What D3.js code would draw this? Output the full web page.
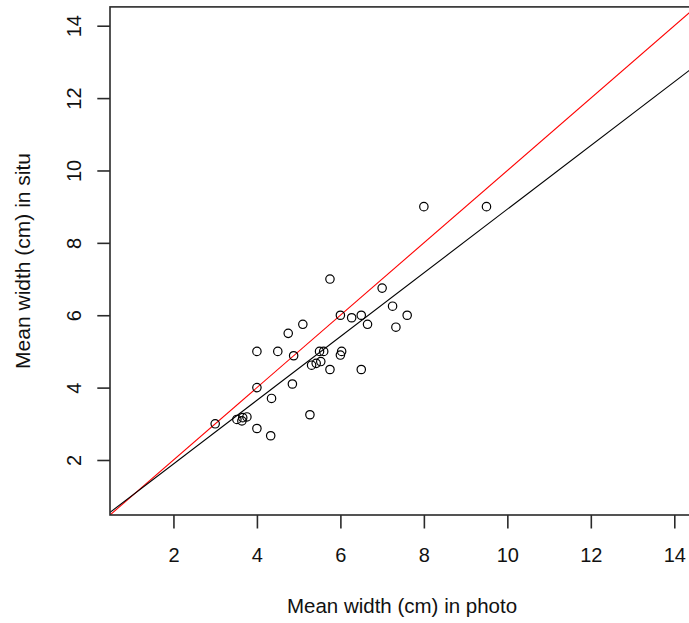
<!DOCTYPE html>
<html>
<head>
<meta charset="utf-8">
<script src="https://cdn.jsdelivr.net/npm/d3@7"></script>
<style>
  html, body { margin: 0; padding: 0; background: #fff; }
  svg { display: block; font-family: "Liberation Sans", Arial, sans-serif; }
</style>
</head>
<body>
<svg id="chart" width="689" height="623"></svg>
<script>
// Mean width measured in photos vs. measured in situ (cm)
const photoWidth = [3.0, 3.52, 3.64, 3.66, 3.76, 4.0, 4.33, 4.0, 4.35, 4.85, 5.27,
  4.0, 4.5, 4.88, 4.75, 5.1, 5.75, 7.0, 7.25, 7.6, 7.33, 6.0, 6.27, 6.5, 6.65,
  5.5, 5.6, 6.03, 6.0, 5.31, 5.42, 5.53, 5.75, 6.5, 8.0, 9.5];
const situWidth = [3.0, 3.12, 3.08, 3.17, 3.19, 2.87, 2.67, 4.0, 3.7, 4.1, 3.25,
  5.0, 5.0, 4.88, 5.5, 5.75, 7.0, 6.75, 6.25, 6.0, 5.67, 6.0, 5.93, 6.0, 5.75,
  5.0, 5.0, 5.0, 4.9, 4.62, 4.67, 4.72, 4.5, 4.5, 9.0, 9.0];

const xTicks = [2, 4, 6, 8, 10, 12, 14];
const yTicks = [2, 4, 6, 8, 10, 12, 14];

// Fitted regression line (black) and 1:1 reference line (red)
const fitLine = { intercept: 0.13, slope: 0.88 };
const identityLine = { intercept: 0, slope: 1 };

const xDomain = [0.48, 14.52];
const yDomain = [0.48, 14.52];

const svg = d3.select("#chart");
const W = 689, H = 623;
const plotLeft = 110, plotRight = 696, plotTop = 6.9, plotBottom = 515;

const x = d3.scaleLinear().domain(xDomain).range([plotLeft, plotRight]);
const y = d3.scaleLinear().domain(yDomain).range([plotBottom, plotTop]);

svg.append("rect").attr("width", W).attr("height", H).attr("fill", "#fff");

svg.append("defs").append("clipPath").attr("id", "plotClip")
  .append("rect").attr("x", plotLeft).attr("y", plotTop)
  .attr("width", plotRight - plotLeft).attr("height", plotBottom - plotTop);

const plot = svg.append("g").attr("clip-path", "url(#plotClip)");

function drawAbline(line, color) {
  plot.append("line")
    .attr("x1", x(xDomain[0])).attr("y1", y(line.intercept + line.slope * xDomain[0]))
    .attr("x2", x(xDomain[1])).attr("y2", y(line.intercept + line.slope * xDomain[1]))
    .attr("stroke", color).attr("stroke-width", 1.1);
}
drawAbline(identityLine, "#ff0000");
drawAbline(fitLine, "#000000");

plot.selectAll("circle.pt")
  .data(d3.range(photoWidth.length))
  .join("circle")
  .attr("class", "pt")
  .attr("cx", i => x(photoWidth[i]))
  .attr("cy", i => y(situWidth[i]))
  .attr("r", 4.2)
  .attr("fill", "none")
  .attr("stroke", "#000")
  .attr("stroke-width", 1.2);

// Plot frame
svg.append("rect")
  .attr("x", plotLeft).attr("y", plotTop)
  .attr("width", plotRight - plotLeft).attr("height", plotBottom - plotTop)
  .attr("fill", "none").attr("stroke", "#2a2a2a").attr("stroke-width", 1.6);

// Axes
const xAxis = d3.axisBottom(x).tickValues(xTicks).tickSize(13.5).tickPadding(0).tickFormat(d3.format("d"));
const gx = svg.append("g").attr("transform", `translate(0,${plotBottom})`).call(xAxis);
gx.select(".domain").remove();
gx.selectAll(".tick line").attr("stroke", "#2a2a2a").attr("stroke-width", 1.6);
gx.selectAll(".tick text")
  .attr("y", 47).attr("dy", null)
  .attr("font-size", 20).attr("fill", "#111")
  .style("font-family", '"Liberation Sans", Arial, sans-serif');

const yAxis = d3.axisLeft(y).tickValues(yTicks).tickSize(12.7).tickPadding(0).tickFormat(d3.format("d"));
const gy = svg.append("g").attr("transform", `translate(${plotLeft},0)`).call(yAxis);
gy.select(".domain").remove();
gy.selectAll(".tick line").attr("stroke", "#2a2a2a").attr("stroke-width", 1.6);
gy.selectAll(".tick text")
  .attr("x", null).attr("dy", null)
  .attr("text-anchor", "middle")
  .attr("transform", "translate(-29,0) rotate(-90)")
  .attr("font-size", 20).attr("fill", "#111")
  .style("font-family", '"Liberation Sans", Arial, sans-serif');

// Axis titles
svg.append("text")
  .attr("x", 402).attr("y", 613)
  .attr("text-anchor", "middle")
  .attr("font-size", 20.5).attr("fill", "#111")
  .text("Mean width (cm) in photo");

svg.append("text")
  .attr("transform", `translate(29.5,${(plotTop + plotBottom) / 2}) rotate(-90)`)
  .attr("text-anchor", "middle")
  .attr("font-size", 21).attr("fill", "#111")
  .text("Mean width (cm) in situ");
</script>
</body>
</html>
